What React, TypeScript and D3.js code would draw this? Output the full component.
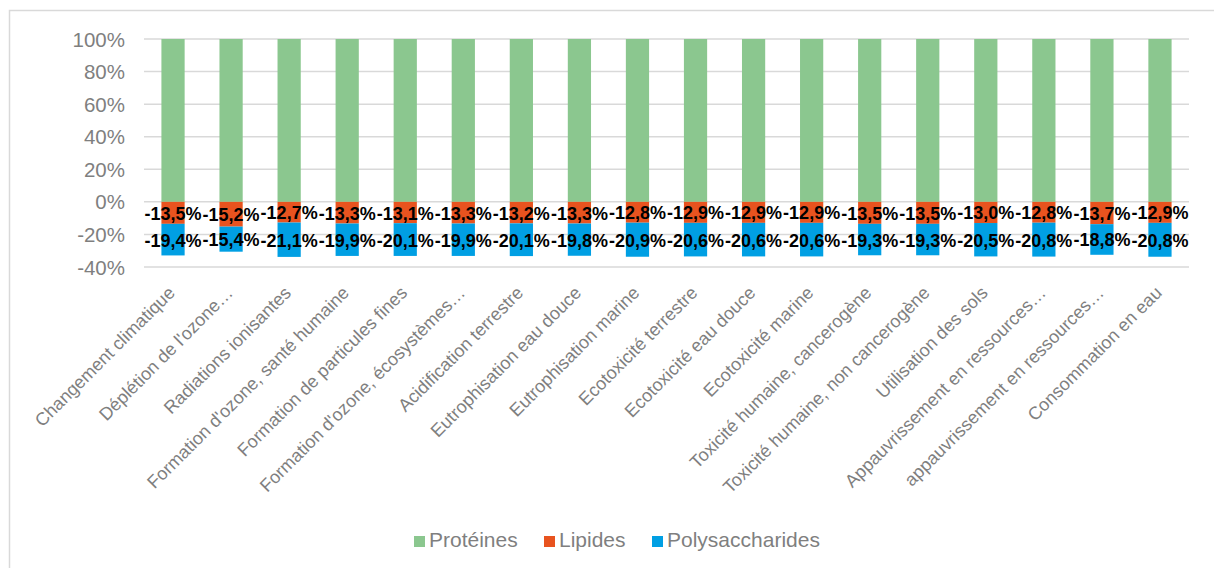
import React from "react";
import * as d3 from "d3";

const categories = [
  "Changement climatique",
  "Déplétion de l'ozone…",
  "Radiations ionisantes",
  "Formation d'ozone, santé humaine",
  "Formation de particules fines",
  "Formation d'ozone, écosystèmes…",
  "Acidification terrestre",
  "Eutrophisation eau douce",
  "Eutrophisation marine",
  "Ecotoxicité terrestre",
  "Ecotoxicité eau douce",
  "Ecotoxicité marine",
  "Toxicité humaine, cancerogène",
  "Toxicité humaine, non cancerogène",
  "Utilisation des sols",
  "Appauvrissement en ressources…",
  "appauvrissement en ressources…",
  "Consommation en eau",
];

const proteines = [100, 100, 100, 100, 100, 100, 100, 100, 100, 100, 100, 100, 100, 100, 100, 100, 100, 100];
const lipides = [-13.5, -15.2, -12.7, -13.3, -13.1, -13.3, -13.2, -13.3, -12.8, -12.9, -12.9, -12.9, -13.5, -13.5, -13.0, -12.8, -13.7, -12.9];
const polysaccharides = [-19.4, -15.4, -21.1, -19.9, -20.1, -19.9, -20.1, -19.8, -20.9, -20.6, -20.6, -20.6, -19.3, -19.3, -20.5, -20.8, -18.8, -20.8];

const yTicks = [100, 80, 60, 40, 20, 0, -20, -40];

const seriesNames = ["Protéines", "Lipides", "Polysaccharides"];
const colors = ["#8BC78F", "#E8531F", "#009FE3"];

const W = 1214;
const H = 568;
const FONT = "'Liberation Sans', Arial, sans-serif";

export default function App() {
  const rows = categories.map((c, i) => ({
    cat: c,
    "Protéines": proteines[i],
    "Lipides": lipides[i],
    "Polysaccharides": polysaccharides[i],
  }));
  const stack = d3
    .stack<any>()
    .keys(seriesNames)
    .offset(d3.stackOffsetDiverging);
  const series = stack(rows);

  const x = d3
    .scaleBand<string>()
    .domain(categories)
    .range([144, 1189])
    .paddingInner(0.6)
    .paddingOuter(0.3);
  const y = d3.scaleLinear().domain([-40, 100]).range([267, 39]);

  const fmt = (v: number) => v.toFixed(1).replace(".", ",") + "%";

  const legendItems = [
    { name: "Protéines", sq: 414 },
    { name: "Lipides", sq: 544 },
    { name: "Polysaccharides", sq: 652 },
  ];

  return (
    <svg
      width={W}
      height={H}
      style={{ position: "absolute", left: 0, top: 0, background: "#fff" }}
      fontFamily={FONT}
    >
      <rect x={0} y={0} width={W} height={H} fill="#fff" />
      <rect x={9.5} y={10.5} width={W + 20} height={H + 20} fill="none" stroke="#D9D9D9" strokeWidth={1.5} />
      {yTicks.map((t) => (
        <g key={t}>
          <line x1={144} x2={1189} y1={y(t)} y2={y(t)} stroke="#D9D9D9" strokeWidth={1.5} />
          <text x={125} y={y(t)} textAnchor="end" dominantBaseline="central" fontSize={20.5} fill="#7F7F7F">
            {t}%
          </text>
        </g>
      ))}
      {series.map((s, si) => (
        <g key={s.key} fill={colors[si]}>
          {s.map((d, i) => (
            <rect
              key={i}
              x={x(categories[i])}
              width={x.bandwidth()}
              y={y(Math.max(d[0], d[1]))}
              height={Math.abs(y(d[0]) - y(d[1]))}
            />
          ))}
        </g>
      ))}
      {series.slice(1).map((s) => (
        <g key={"lbl" + s.key}>
          {s.map((d, i) => (
            <text
              key={i}
              x={(x(categories[i]) as number) + x.bandwidth() / 2}
              y={(y(d[0]) + y(d[1])) / 2 + 1}
              textAnchor="middle"
              dominantBaseline="central"
              fontSize={18}
              fontWeight="bold"
              fill="#000"
            >
              {fmt((d.data as any)[s.key])}
            </text>
          ))}
        </g>
      ))}
      {categories.map((c) => {
        const cx = (x(c) as number) + x.bandwidth() / 2;
        const tx = cx + 3;
        const ty = 294;
        return (
          <text
            key={c}
            x={tx}
            y={ty}
            textAnchor="end"
            fontSize={18}
            fill="#7F7F7F"
            transform={`rotate(-45 ${tx} ${ty})`}
          >
            {c}
          </text>
        );
      })}
      {legendItems.map((l, i) => (
        <g key={l.name}>
          <rect x={l.sq} y={536} width={11} height={11} fill={colors[i]} />
          <text x={l.sq + 15} y={547} fontSize={21} fill="#7F7F7F">
            {l.name}
          </text>
        </g>
      ))}
    </svg>
  );
}
